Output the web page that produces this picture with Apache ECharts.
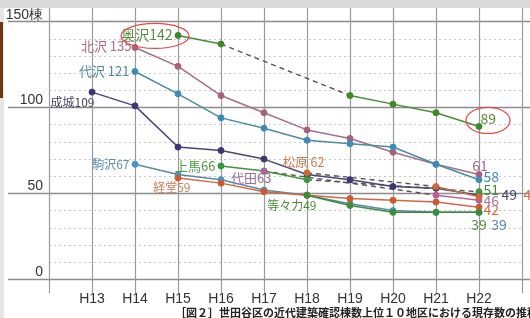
<!DOCTYPE html>
<html>
<head>
<meta charset="utf-8">
<script src="https://cdn.jsdelivr.net/npm/echarts@6/dist/echarts.min.js"></script>
<style>
html,body{margin:0;padding:0;background:#fff;}
#c{width:530px;height:318px;}
</style>
</head>
<body>
<div id="c"></div>
<script>
// ---- data ----
const categories = ['', 'H13', 'H14', 'H15', 'H16', 'H17', 'H18', 'H19', 'H20', 'H21', 'H22', ''];
const yTicks = [0, 50, 100, 150];
const seijo     = [null, 109, 101, 77, 75, 70, 61, 58, 54, 53, 49, null];
const kitazawa  = [null, null, 135, 124, 107, 97, 87, 82, 74, 67, 61, null];
const daizawa   = [null, null, 121, 108, 94, 88, 81, 79, 77, 67, 58, null];
const okusawa   = [null, null, null, 142, 137, null, null, 107, 102, 97, 89, null];
const komazawa  = [null, null, 67, 61, 58, 52, 49, 44, 40, 39, 39, null];
const kamiuma   = [null, null, null, null, 66, 63, 58, null, null, null, 51, null];
const kyodo     = [null, null, null, 59, 56, 51, 49, 47, 46, 45, 42, null];
const daita     = [null, null, null, null, null, 63, null, null, null, 49, 46, null];
const matsubara = [null, null, null, null, null, null, 62, null, null, 54, 48, null];
const todoroki  = [null, null, null, null, null, null, 49, 43, 39, 39, 39, null];
const caption = '［図２］世田谷区の近代建築確認棟数上位１０地区における現存数の推移';

// ---- styles ----
const FONT = '"Noto Sans CJK JP", "Noto Sans", sans-serif';
const defs = [
  {name:'成城', data:seijo, color:'#3e3676', line:'#4a4472', text:'#4a4562', sep:'', fs:12,
   start:{position:'left', distance:0, offset:[6,10]}, endText:'#4a4668', end:{position:'right', distance:19, offset:[0,0]}},
  {name:'北沢', data:kitazawa, color:'#a8607e', line:'#a27088', text:'#a46e88', sep:' ', fs:13,
   start:{position:'left', distance:0, offset:[0,-1]}, endText:'#a06a90', end:{position:'top', distance:0, offset:[1,1.5]}},
  {name:'代沢', data:daizawa, color:'#3c8cb5', line:'#4a8aaa', text:'#4c8aa6', sep:' ', fs:13,
   start:{position:'left', distance:2, offset:[0,0]}, endText:'#4a8ab0', end:{position:'right', distance:1, offset:[0,-3]}},
  {name:'奥沢', data:okusawa, color:'#3a8a28', line:'#4a8a3a', text:'#5b8c3c', sep:'', fs:14,
   start:{position:'left', distance:2, offset:[0,-1]}, endText:'#5a8a3a', end:{position:'right', distance:-2, offset:[0,-7.5]}},
  {name:'駒沢', data:komazawa, color:'#4a94c0', line:'#5a8aa8', text:'#5a8ab8', sep:'', fs:12,
   start:{position:'left', distance:2, offset:[0,0]}, endText:'#5a86b0', end:{position:'bottom', distance:2, offset:[20,0]}},
  {name:'上馬', data:kamiuma, color:'#3a9a3a', line:'#3f9440', text:'#4d9a48', sep:'', fs:13,
   start:{position:'left', distance:2, offset:[0,0]}, endText:'#3d8a3a', end:{position:'right', distance:1, offset:[0,-2]}},
  {name:'経堂', data:kyodo, color:'#d0582e', line:'#cc6a44', text:'#cc7d55', sep:'', fs:12,
   start:{position:'left', distance:0, offset:[16,9]}, endText:'#d07040', end:{position:'right', distance:1, offset:[0,3]}},
  {name:'代田', data:daita, color:'#b8609a', line:'#b06a98', text:'#9c6c9c', sep:'', fs:13,
   start:{position:'left', distance:0, offset:[11,7]}, endText:'#b070a0', end:{position:'right', distance:1, offset:[0,0]}},
  {name:'松原', data:matsubara, color:'#d06a35', line:'#c8703e', text:'#c8784e', sep:' ', fs:12.5,
   start:{position:'top', distance:1, offset:[-3.5,0]}, endText:'#d07040', end:{position:'right', distance:41, offset:[0,-2]}},
  {name:'等々力', data:todoroki, color:'#3c8c3c', line:'#3f8a3f', text:'#4f8a3a', sep:'', fs:12,
   start:{position:'left', distance:0, offset:[13,10]}, endText:'#5a8a4a', end:{position:'bottom', distance:2, offset:[0,0]}}
];

function buildSeries(d) {
  const idx = d.data.map((v, i) => v == null ? -1 : i).filter(i => i >= 0);
  const first = idx[0], last = idx[idx.length - 1];
  const fs = d.fs || 14;
  const solid = d.data.map((v, i) => {
    if (v == null) return null;
    const item = {value: v};
    if (i === first) {
      item.label = Object.assign({show:true, formatter: d.name + d.sep + v, color:d.text, fontSize:fs, fontFamily:FONT}, d.start);
    } else if (i === last) {
      item.label = Object.assign({show:true, formatter: String(v), color:d.endText, fontSize:14, fontFamily:FONT}, d.end);
    }
    return item;
  });
  const out = [{
    type:'line', name:d.name, xAxisIndex:2, yAxisIndex:2, data:solid, connectNulls:false,
    symbol:'circle', symbolSize:6, itemStyle:{color:d.color, borderColor:d.color},
    lineStyle:{color:d.line, width:1.5}, z:4, animation:false
  }];
  // dashed segments across interior gaps
  for (let k = 0; k < idx.length - 1; k++) {
    if (idx[k+1] - idx[k] > 1) {
      const seg = d.data.map((v, i) => (i === idx[k] || i === idx[k+1]) ? v : null);
      out.push({type:'line', xAxisIndex:2, yAxisIndex:2, data:seg, connectNulls:true, symbol:'none',
        lineStyle:{color:'#555', width:1.4, type:[5,4]}, z:3, animation:false, silent:true});
    }
  }
  return out;
}

const chart = echarts.init(document.getElementById('c'), null, {renderer:'canvas'});
const series = [];
defs.forEach(d => series.push(...buildSeries(d)));

chart.setOption({
  animation:false,
  backgroundColor:'#ffffff',
  textStyle:{fontFamily:FONT},
  grid:[
    {left:49, right:8, top:8, bottom:25},
    {left:8, right:0, top:21.7, bottom:38.7},
    {left:49, right:8, top:21.7, bottom:38.7}
  ],
  xAxis:[
    {gridIndex:0, type:'category', data:categories, boundaryGap:false, axisLine:{show:false}, axisTick:{show:false},
     axisLabel:{show:false}, splitLine:{show:true, interval:0, lineStyle:{color:'#9a9a9a', width:1.2}}},
    {gridIndex:1, type:'value', show:false},
    {gridIndex:2, type:'category', data:categories, boundaryGap:false, axisLine:{show:false}, axisTick:{show:false},
     splitLine:{show:false}, axisLabel:{interval:0, margin:13, fontSize:14, color:'#333', fontFamily:'"Liberation Sans", Arial, sans-serif'}}
  ],
  yAxis:[
    {gridIndex:0, type:'value', show:false},
    {gridIndex:1, type:'value', min:yTicks[0], max:yTicks[yTicks.length-1], interval:50, axisLine:{show:false}, axisTick:{show:false},
     axisLabel:{show:false}, splitLine:{show:true, lineStyle:{color:'#8c8c8c', width:1.3}}},
    {gridIndex:2, type:'value', min:yTicks[0], max:yTicks[yTicks.length-1], interval:50, axisLine:{show:false}, axisTick:{show:false},
     splitLine:{show:false}, minorTick:{show:false, splitNumber:5},
     minorSplitLine:{show:true, lineStyle:{color:'#c8c8c8', type:[2,3], width:1}},
     axisLabel:{margin:6, verticalAlign:'bottom', fontSize:14, color:'#333', fontFamily:'"Liberation Sans", Arial, sans-serif',
       formatter: v => v === yTicks[yTicks.length-1] ? v + '棟' : String(v)}}
  ],
  series: series
});

// annotations: red ellipses around the 奥沢 first and last values
const okIdx = okusawa.map((v,i)=>v==null?-1:i).filter(i=>i>=0);
const p1 = chart.convertToPixel({xAxisIndex:2, yAxisIndex:2}, [okIdx[0], okusawa[okIdx[0]]]);
const p2 = chart.convertToPixel({xAxisIndex:2, yAxisIndex:2}, [okIdx[okIdx.length-1], okusawa[okIdx[okIdx.length-1]]]);

chart.setOption({
  graphic:[
    {type:'rect', z:100, shape:{x:0, y:0, width:530, height:8}, style:{fill:'#d9d9d9'}},
    {type:'rect', z:100, shape:{x:0, y:8, width:4, height:310}, style:{fill:'#e6e6e6'}},
    {type:'rect', z:101, shape:{x:0, y:22, width:3, height:76}, style:{fill:'#6e3812'}},
    {type:'ellipse', z:100, shape:{cx:p1[0]-23, cy:p1[1]+0.5, rx:34, ry:12.5}, style:{fill:'none', stroke:'#e44a4a', lineWidth:1.2}},
    {type:'ellipse', z:100, shape:{cx:p2[0]+9, cy:p2[1]-6, rx:22, ry:13}, style:{fill:'none', stroke:'#e44a4a', lineWidth:1.2}},
    {type:'text', z:100, style:{text:caption, x:175, y:307, font:'bold 11px "Noto Sans CJK JP"', fill:'#222'}}
  ]
});
</script>
</body>
</html>
